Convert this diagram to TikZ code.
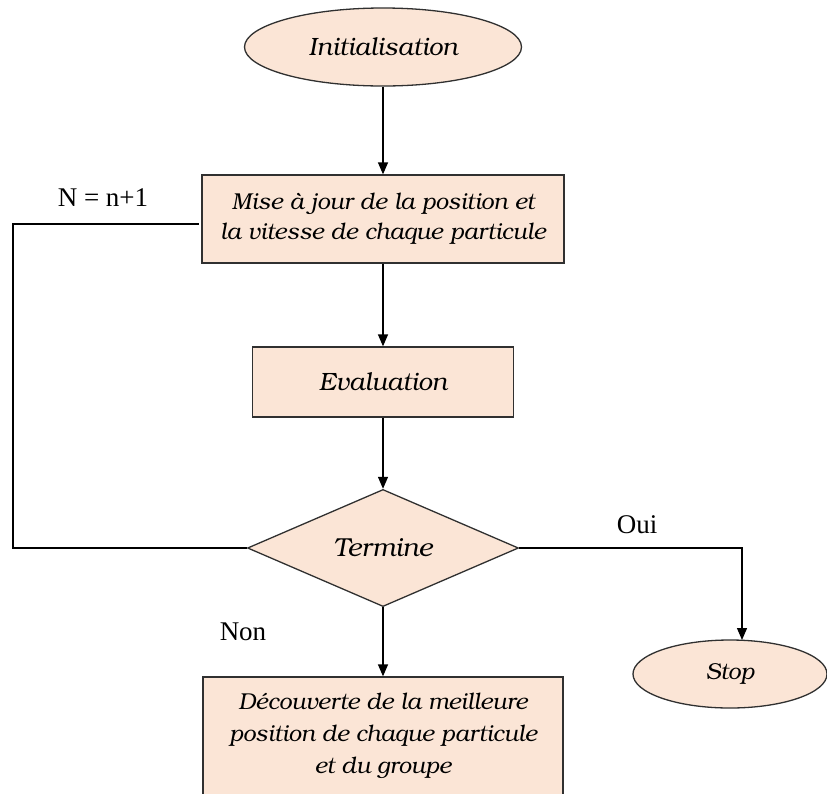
\documentclass[tikz,border=0pt]{standalone}
\usepackage{fontspec}
\setmainfont{Liberation Serif}
\newfontfamily\bonum{TeX Gyre Bonum}
\usetikzlibrary{shapes.geometric,arrows.meta}
\definecolor{peach}{HTML}{FBE5D6}
\definecolor{edge}{HTML}{303030}
\tikzset{
  base/.style={draw=edge, line width=1.3pt, fill=peach, inner sep=0pt,
    font=\bonum\itshape\fontsize{23}{30}\selectfont, align=center},
  oval/.style={base, ellipse},
  stepbox/.style={base, rectangle},
  test/.style={base, diamond},
  link/.style={line width=1.3pt, draw=black},
  flow/.style={link, -{Triangle[length=12pt,width=10pt]}},
  tag/.style={font=\fontsize{27}{30}\selectfont}
}
\begin{document}
\begin{tikzpicture}[x=1pt,y=-1pt]
\useasboundingbox (0,0) rectangle (827,793);

% process nodes
\node[oval, minimum width=277pt, minimum height=78pt,
      font=\bonum\itshape\fontsize{25}{30}\selectfont] (init) at (383,47) {Initialisation};
\node[stepbox, minimum width=362pt, minimum height=88pt] (maj) at (383,219)
  {Mise à jour de la position et\\la vitesse de chaque particule};
\node[stepbox, minimum width=261pt, minimum height=70pt,
      font=\bonum\itshape\fontsize{25}{30}\selectfont] (eval) at (383,382) {Evaluation};
\node[test, minimum width=271pt, minimum height=110pt,
      font=\bonum\itshape\fontsize{26}{30}\selectfont] (term) at (383,548) {Termine};
\node[oval, minimum width=194pt, minimum height=68pt] (stop) at (730,674) {Stop};
\node[stepbox, minimum width=360pt, minimum height=118pt,
      font=\bonum\itshape\fontsize{23}{32}\selectfont] (best) at (383,736)
  {Découverte de la meilleure\\position de chaque particule\\et du groupe};

% loop and exit points
\coordinate (corner) at (13,224);
\coordinate (back) at (199,224);
\coordinate (stopin) at (742,640);

% connectors
\draw[flow] (init) -- (maj);
\draw[flow] (maj) -- (eval);
\draw[flow] (eval) -- (term);
\draw[flow] (term) -- (best);
\draw[link] (term.west) -| (corner) -- (back);
\draw[flow] (term.east) -| (stopin);

% labels
\node[tag] (nlab) at (103,198) {N = n+1};
\node[tag] (oui) at (637,525) {Oui};
\node[tag] (non) at (243,632) {Non};
\end{tikzpicture}
\end{document}
